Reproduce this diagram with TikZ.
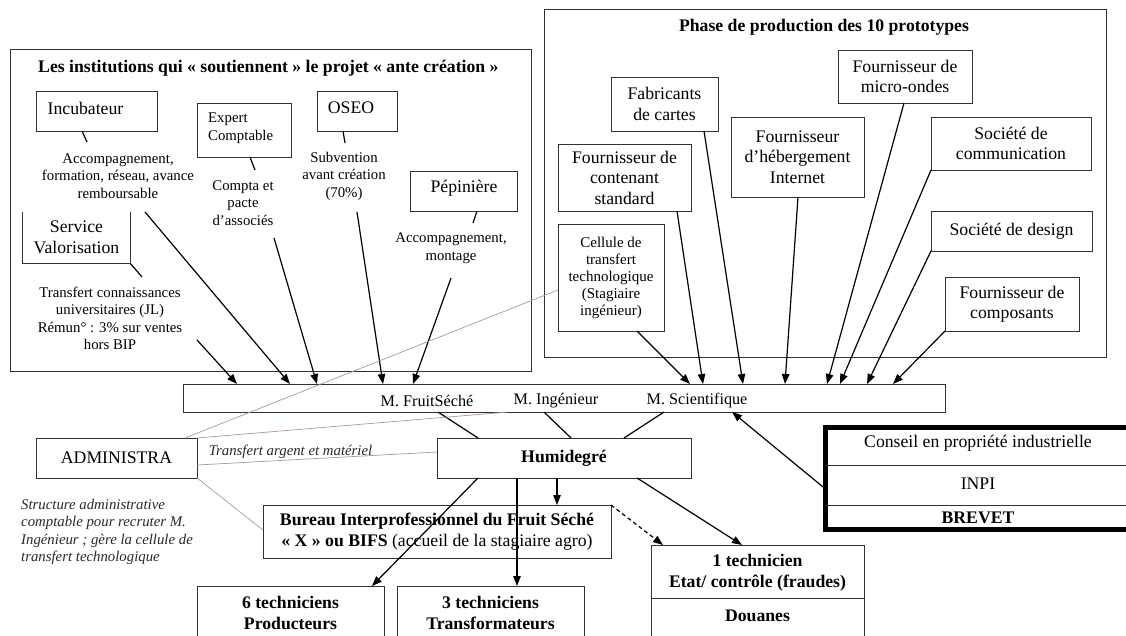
\documentclass[tikz,border=0pt]{standalone}
\usepackage{fontspec}
\setmainfont{Liberation Serif}
\usetikzlibrary{arrows.meta}
\definecolor{bord}{RGB}{50,50,50}
\definecolor{purp}{RGB}{180,140,180}
\definecolor{itxt}{RGB}{40,40,40}
\newcommand\fbig{\fontsize{17.7}{20.5}\selectfont}
\newcommand\fsm{\fontsize{14.8}{17.5}\selectfont}
\newcommand\fbar{\fontsize{16.2}{19}\selectfont}
\begin{document}
\begin{tikzpicture}[x=1pt,y=-1pt,
  box/.style={draw=bord,line width=0.9pt,inner sep=0pt,outer sep=0pt},
  txt/.style={inner sep=0pt,align=center,font=\fbig},
  ann/.style={inner sep=0pt,align=center,font=\fsm},
  conn/.style={line width=1.2pt,black},
  arr/.style={conn,-{Triangle[length=10pt,width=7.5pt]}},
  darr/.style={arr,dash pattern=on 4pt off 3pt},
  pline/.style={purp,line width=0.7pt},
]
\useasboundingbox (0,0) rectangle (1126,636);
% frames
\node[box,minimum width=521pt,minimum height=322pt] (lframe) at (270.5,210) {};
\node[box,minimum width=562pt,minimum height=348pt] (pframe) at (825,183) {};
\node[inner sep=0pt,font=\fbig\bfseries,anchor=west] (ltitle) at (38,68) {Les institutions qui « soutiennent » le projet « ante création »};
\node[inner sep=0pt,font=\fbig\bfseries] (ptitle) at (824,27) {Phase de production des 10 prototypes};
% left institutions
\node[box,minimum width=121pt,minimum height=40pt] (incub) at (96.5,111) {};
\node[txt] (incubt) at (85.5,108) {Incubateur};
\node[box,minimum width=94pt,minimum height=54pt] (expert) at (244,130) {};
\node[inner sep=0pt,align=left,anchor=west,font=\fontsize{14.8}{18}\selectfont] (expertt) at (208,128) {Expert\\Comptable};
\node[box,minimum width=80pt,minimum height=40pt] (oseo) at (357,111) {};
\node[txt] (oseot) at (351,108) {OSEO};
\node[box,minimum width=107pt,minimum height=40pt] (pepin) at (463.5,191) {};
\node[txt] (pepint) at (464,188) {Pépinière};
\node[txt,minimum width=107pt,minimum height=51pt] (servval) at (76.5,237.5) {Service\\Valorisation};
\draw[bord,line width=0.9pt] (servval.north west) |- (servval.south east) -- (servval.north east);
\node[ann] (incuba) at (118,176) {Accompagnement,\\formation, réseau, avance\\remboursable};
\node[ann] (experta) at (243,203) {Compta et\\pacte\\d’associés};
\node[ann] (oseoa) at (344,176) {Subvention\\avant création\\(70\%)};
\node[ann] (pepina) at (451,248) {Accompagnement,\\montage};
\node[ann] (servvala) at (110,318.5) {Transfert connaissances\\universitaires (JL)\\Rémun° : 3\% sur ventes\\hors BIP};
% production
\node[box,txt,minimum width=107pt,minimum height=54pt] (fab) at (664.5,104) {Fabricants\\de cartes};
\node[box,txt,minimum width=134pt,minimum height=53pt] (micro) at (905,76.5) {Fournisseur de\\micro-ondes};
\node[box,txt,minimum width=133pt,minimum height=80pt] (heb) at (797.5,157) {Fournisseur\\d’hébergement\\Internet};
\node[box,txt,minimum width=160pt,minimum height=53pt] (comm) at (1011,143.5) {Société de\\communication};
\node[box,txt,minimum width=133pt,minimum height=67pt] (cont) at (624.5,177.5) {Fournisseur de\\contenant\\standard};
\node[box,txt,minimum width=161pt,minimum height=40pt] (design) at (1011.5,231) {Société de design};
\node[box,txt,font=\fontsize{15}{17}\selectfont,minimum width=106pt,minimum height=107pt] (cell) at (611,277.5) {Cellule de\\transfert\\technologique\\(Stagiaire\\ingénieur)};
\node[box,txt,minimum width=134pt,minimum height=54pt] (comp) at (1012,304) {Fournisseur de\\composants};
% bar
\node[box,minimum width=762pt,minimum height=28pt] (bar) at (564,398) {};
\node[inner sep=0pt,font=\fbar] (fs) at (427,401) {M. FruitSéché};
\node[inner sep=0pt,font=\fbar] (ing) at (556,401) {M. Ingénieur};
\node[inner sep=0pt,font=\fbar] (sci) at (697,401) {M. Scientifique};
% lower part
\node[box,txt,minimum width=161pt,minimum height=40pt] (admin) at (116.5,458) {ADMINISTRA};
\node[box,txt,font=\fbig\bfseries,minimum width=254pt,minimum height=40pt] (humi) at (564,458) {Humidegré};
\node[box,txt,minimum width=348pt,minimum height=53pt] (bureau) at (437,531.5) {\textbf{Bureau Interprofessionnel du Fruit Séché}\\\textbf{« X » ou BIFS} (accueil de la stagiaire agro)};
\node[box,minimum width=187pt,minimum height=90pt] (six) at (290.5,631) {};
\node[txt,font=\fbig\bfseries] (sixt) at (290.5,613) {6 techniciens\\Producteurs};
\node[box,minimum width=187pt,minimum height=90pt] (three) at (490.5,631) {};
\node[txt,font=\fbig\bfseries] (threet) at (490.5,613) {3 techniciens\\Transformateurs};
\node[box,minimum width=213pt,minimum height=130pt] (tech1) at (757.5,610) {};
\draw[bord,line width=0.9pt] (tech1.west |- 0,598) -- (tech1.east |- 0,598);
\node[txt,font=\fbig\bfseries] (tech1t) at (757.5,572.5) {1 technicien\\Etat/ contrôle (fraudes)};
\node[txt,font=\fbig\bfseries] (douanes) at (757.5,616) {Douanes};
\node[draw=black,line width=5pt,inner sep=0pt,outer sep=0pt,minimum width=305pt,minimum height=102pt] (conseil) at (978,478.5) {};
\draw[bord,line width=0.9pt] (conseil.west |- 0,465) -- (conseil.east |- 0,465);
\draw[bord,line width=0.9pt] (conseil.west |- 0,505) -- (conseil.east |- 0,505);
\node[txt] (cpi) at (978,443) {Conseil en propriété industrielle};
\node[txt] (inpi) at (978,484) {INPI};
\node[txt,font=\fbig\bfseries] (brevet) at (978,518) {BREVET};
\node[inner sep=0pt,font=\fsm\itshape,text=itxt] (transf) at (290.5,452) {Transfert argent et matériel};
\node[inner sep=0pt,font=\fsm\itshape,text=itxt,align=left,anchor=west] (struct) at (21,532) {Structure administrative\\comptable pour recruter M.\\Ingénieur ; gère la cellule de\\transfert technologique};
% named free ends
\coordinate (incubend) at (87,142);
\coordinate (expertend) at (255,170);
\coordinate (oseoend) at (345,143);
\coordinate (pepinend) at (473,223);
\coordinate (servend) at (142,277);
\coordinate (sva) at (197,340);
\coordinate (inca) at (145,212);
\coordinate (expa) at (274,238);
\coordinate (osa) at (357,212);
\coordinate (pepa) at (451,278);
% small connectors
\draw[conn] (incub.south -| 82,0) -- (incubend);
\draw[conn] (expert.south -| 250,0) -- (expertend);
\draw[conn] (oseo.south -| 343,0) -- (oseoend);
\draw[conn] (pepin.south -| 477,0) -- (pepinend);
\draw[conn] (servval.south east) -- (servend);
% arrows into bar from left
\draw[arr] (sva) -- (bar.north -| 237,0);
\draw[arr] (inca) -- (bar.north -| 290,0);
\draw[arr] (expa) -- (bar.north -| 317,0);
\draw[arr] (osa) -- (bar.north -| 383,0);
\draw[arr] (pepa) -- (bar.north -| 413,0);
% arrows into bar from production
\draw[arr] (cell.south -| 637,0) -- (bar.north -| 690,0);
\draw[arr] (cont.south -| 677,0) -- (bar.north -| 703,0);
\draw[arr] (fab.south -| 704,0) -- (bar.north -| 743,0);
\draw[arr] (heb.south -| 798,0) -- (bar.north -| 785,0);
\draw[arr] (micro.south -| 904,0) -- (bar.north -| 827,0);
\draw[arr] (comm.south west) -- (bar.north -| 840,0);
\draw[arr] (design.south west) -- (bar.north -| 867,0);
\draw[arr] (comp.south west) -- (bar.north -| 893,0);
\draw[arr] (conseil.west |- 0,489) -- (bar.south -| 732,0);
% bar to Humidegre
\draw[conn] (bar.south -| 438,0) -- (humi.north -| 478,0);
\draw[conn] (bar.south -| 544,0) -- (humi.north -| 571,0);
\draw[conn] (bar.south -| 664,0) -- (humi.north -| 624,0);
% Humidegre outputs
\draw[arr] (humi.south -| 478,0) -- (six.north -| 372,0);
\draw[arr] (humi.south -| 517,0) -- (three.north -| 517,0);
\draw[arr] (humi.south -| 557,0) -- (bureau.north -| 557,0);
\draw[arr] (humi.south -| 637,0) -- (tech1.north -| 742,0);
\draw[darr] (bureau.north east) -- (tech1.north -| 663,0);
% purple links from ADMINISTRA
\draw[pline] (admin.north -| 185,0) -- (cell.west |- 0,290);
\draw[pline] (admin.north east) -- (bar.south -| 508,0);
\draw[pline] (admin.east |- 0,465) -- (humi.west |- 0,452);
\draw[pline] (admin.south east) -- (bureau.west |- 0,530);
\end{tikzpicture}
\end{document}
